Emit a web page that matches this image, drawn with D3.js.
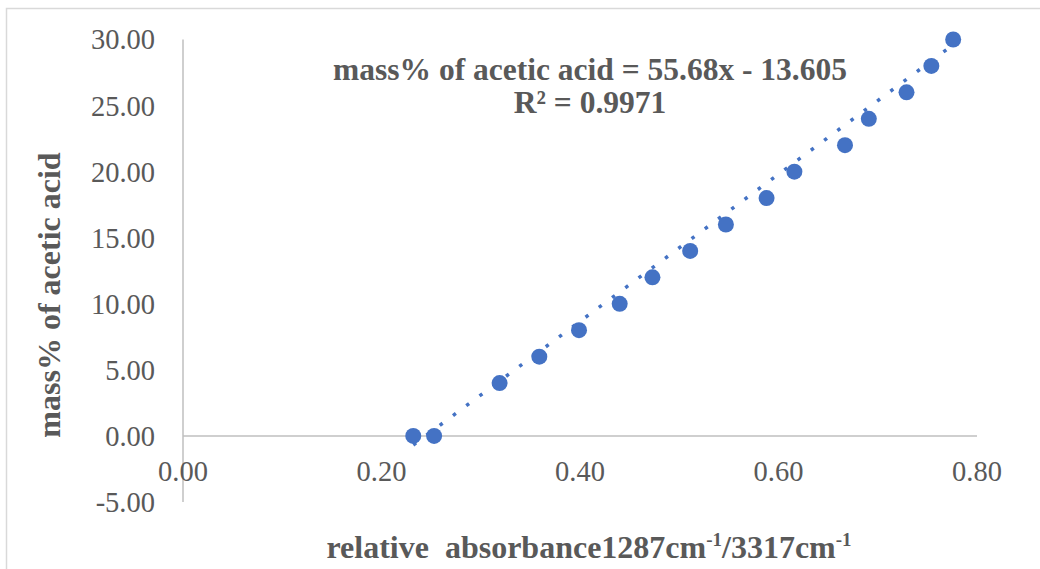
<!DOCTYPE html>
<html>
<head>
<meta charset="utf-8">
<style>
    body { margin: 0; background: #fff; }
    svg text { font-family: 'Liberation Serif', 'Times New Roman', serif; fill: #595959; }
</style>
</head>
<body>
<div id="chart"></div>
<script src="https://cdn.jsdelivr.net/npm/d3@7"></script>
<script>
    // readings
    var absorbance = [0.232, 0.253, 0.319, 0.359, 0.399, 0.440, 0.473, 0.511,
                      0.547, 0.588, 0.616, 0.667, 0.691, 0.729, 0.754, 0.776];
    var mass_pct = [0, 0, 4, 6, 8, 10, 12, 14, 16, 18, 20, 22, 24, 26, 28, 30];
    var x_ticks = [0, 0.2, 0.4, 0.6, 0.8];
    var y_ticks = [-5, 0, 5, 10, 15, 20, 25, 30];
    var slope = 55.68, intercept = -13.605;
    var r2 = '0.9971';

    var width = 1040, height = 569;
    var blue = '#4472C4', grid = '#BFBFBF';

    var x_scale = d3.scaleLinear().domain([0, 0.8]).range([183, 977]);
    var y_scale = d3.scaleLinear().domain([-5, 30]).range([502, 39.5]);

    // excel style numbers, plain hyphen for negatives
    function fmt(d){ return d3.format('.2f')(d).replace('\u2212', '-'); }

    var svg = d3.select('#chart').append('svg')
        .attr('width', width)
        .attr('height', height);

    // chart frame
    svg.append('rect')
        .attr('x', 6.5).attr('y', 8.5)
        .attr('width', width + 20).attr('height', height + 20)
        .attr('fill', 'none')
        .attr('stroke', '#D9D9D9')
        .attr('stroke-width', 1.5);

    // y axis line
    svg.append('line')
        .attr('x1', x_scale(0)).attr('x2', x_scale(0))
        .attr('y1', y_scale(30)).attr('y2', y_scale(-5))
        .attr('stroke', grid).attr('stroke-width', 1.5);

    // x axis sits at y = 0
    svg.append('line')
        .attr('x1', x_scale(0)).attr('x2', x_scale(0.8))
        .attr('y1', y_scale(0)).attr('y2', y_scale(0))
        .attr('stroke', grid).attr('stroke-width', 1.5);

    svg.selectAll('text.ytick')
        .data(y_ticks)
        .enter().append('text')
        .attr('class', 'ytick')
        .attr('x', 155)
        .attr('y', function(d){ return y_scale(d); })
        .attr('dy', '0.35em')
        .attr('text-anchor', 'end')
        .attr('font-size', 28.5)
        .text(fmt);

    svg.selectAll('text.xtick')
        .data(x_ticks)
        .enter().append('text')
        .attr('class', 'xtick')
        .attr('x', function(d){ return x_scale(d); })
        .attr('y', 481)
        .attr('text-anchor', 'middle')
        .attr('font-size', 28.5)
        .text(fmt);

    // linear trendline, dotted
    var x_lo = d3.min(absorbance), x_hi = d3.max(absorbance);
    svg.append('line')
        .attr('x1', x_scale(x_lo)).attr('y1', y_scale(slope * x_lo + intercept))
        .attr('x2', x_scale(x_hi)).attr('y2', y_scale(slope * x_hi + intercept))
        .attr('stroke', blue)
        .attr('stroke-width', 3.5)
        .attr('stroke-dasharray', '3.5,13');

    svg.selectAll('circle.point')
        .data(absorbance)
        .enter().append('circle')
        .attr('class', 'point')
        .attr('cx', function(d){ return x_scale(d); })
        .attr('cy', function(d, i){ return y_scale(mass_pct[i]); })
        .attr('r', 8)
        .attr('fill', blue);

    // equation label
    var eq = svg.append('text')
        .attr('x', 590).attr('y', 80)
        .attr('text-anchor', 'middle')
        .attr('font-size', 31.5)
        .attr('font-weight', 'bold');
    eq.append('tspan')
        .attr('x', 590)
        .text('mass% of acetic acid = ' + slope + 'x - ' + Math.abs(intercept));
    eq.append('tspan')
        .attr('x', 590).attr('dy', 33)
        .text('R² = ' + r2);

    // axis titles
    svg.append('text')
        .attr('transform', 'translate(60,295) rotate(-90)')
        .attr('text-anchor', 'middle')
        .attr('font-size', 32)
        .attr('font-weight', 'bold')
        .text('mass% of acetic acid');

    var xt = svg.append('text')
        .attr('x', 589).attr('y', 558)
        .attr('text-anchor', 'middle')
        .attr('font-size', 32)
        .attr('font-weight', 'bold');
    xt.append('tspan').text('relative\u00a0 absorbance1287cm');
    xt.append('tspan').attr('dy', -12).attr('font-size', 19).text('-1');
    xt.append('tspan').attr('dy', 12).text('/3317cm');
    xt.append('tspan').attr('dy', -12).attr('font-size', 19).text('-1');
</script>
</body>
</html>
